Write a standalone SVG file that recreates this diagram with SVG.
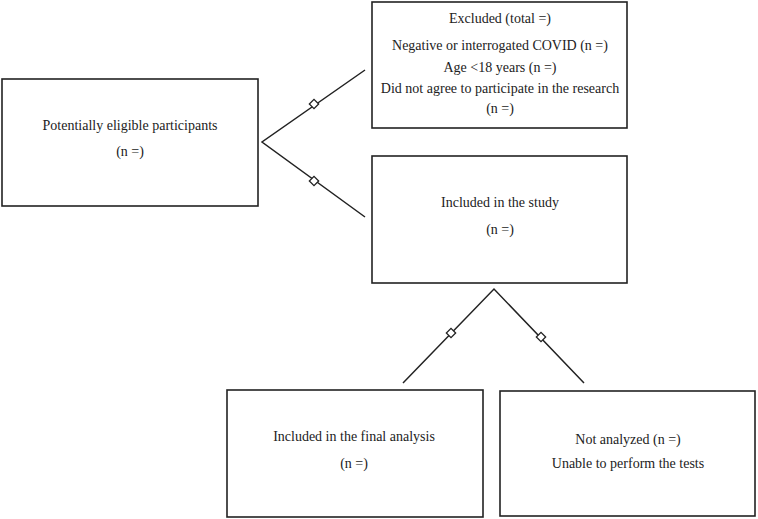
<svg xmlns="http://www.w3.org/2000/svg" width="758" height="519" viewBox="0 0 758 519">
<style>
.box{fill:#fff;stroke:#222;stroke-width:1.6}
.t{font-family:"Liberation Serif","Times New Roman",serif;font-size:14px;fill:#222;text-anchor:middle}
.c{stroke:#222;stroke-width:1.5;fill:none}
.d{fill:#fff;stroke:#222;stroke-width:1.3}
</style>
<defs>
<rect id="dia" x="-3.3" y="-3.3" width="6.6" height="6.6" transform="rotate(45)" class="d"/>
</defs>
<rect width="758" height="519" fill="#fff"/>
<g id="connectors">
<polyline class="c" points="365,70 262,142 365,217"/>
<use href="#dia" x="314" y="104"/>
<use href="#dia" x="314" y="181"/>
<polyline class="c" points="403,383 494,289 584,383"/>
<use href="#dia" x="451" y="333"/>
<use href="#dia" x="541" y="337"/>
</g>
<g id="eligible">
<rect class="box" x="2" y="79" width="256" height="127"/>
<text class="t" x="130" y="130">Potentially eligible participants</text>
<text class="t" x="130" y="156">(n =)</text>
</g>
<g id="excluded">
<rect class="box" x="372" y="2" width="255" height="126"/>
<text class="t" x="500" y="23">Excluded (total =)</text>
<text class="t" x="500" y="50">Negative or interrogated COVID (n =)</text>
<text class="t" x="500" y="72">Age &lt;18 years (n =)</text>
<text class="t" x="500" y="93">Did not agree to participate in the research</text>
<text class="t" x="500" y="113">(n =)</text>
</g>
<g id="included">
<rect class="box" x="372" y="156" width="255" height="127"/>
<text class="t" x="500" y="207">Included in the study</text>
<text class="t" x="500" y="234">(n =)</text>
</g>
<g id="final">
<rect class="box" x="227" y="390" width="256" height="127"/>
<text class="t" x="354" y="441">Included in the final analysis</text>
<text class="t" x="354" y="468">(n =)</text>
</g>
<g id="notanalyzed">
<rect class="box" x="500" y="391" width="255" height="125"/>
<text class="t" x="628" y="444">Not analyzed (n =)</text>
<text class="t" x="628" y="468">Unable to perform the tests</text>
</g>
</svg>
